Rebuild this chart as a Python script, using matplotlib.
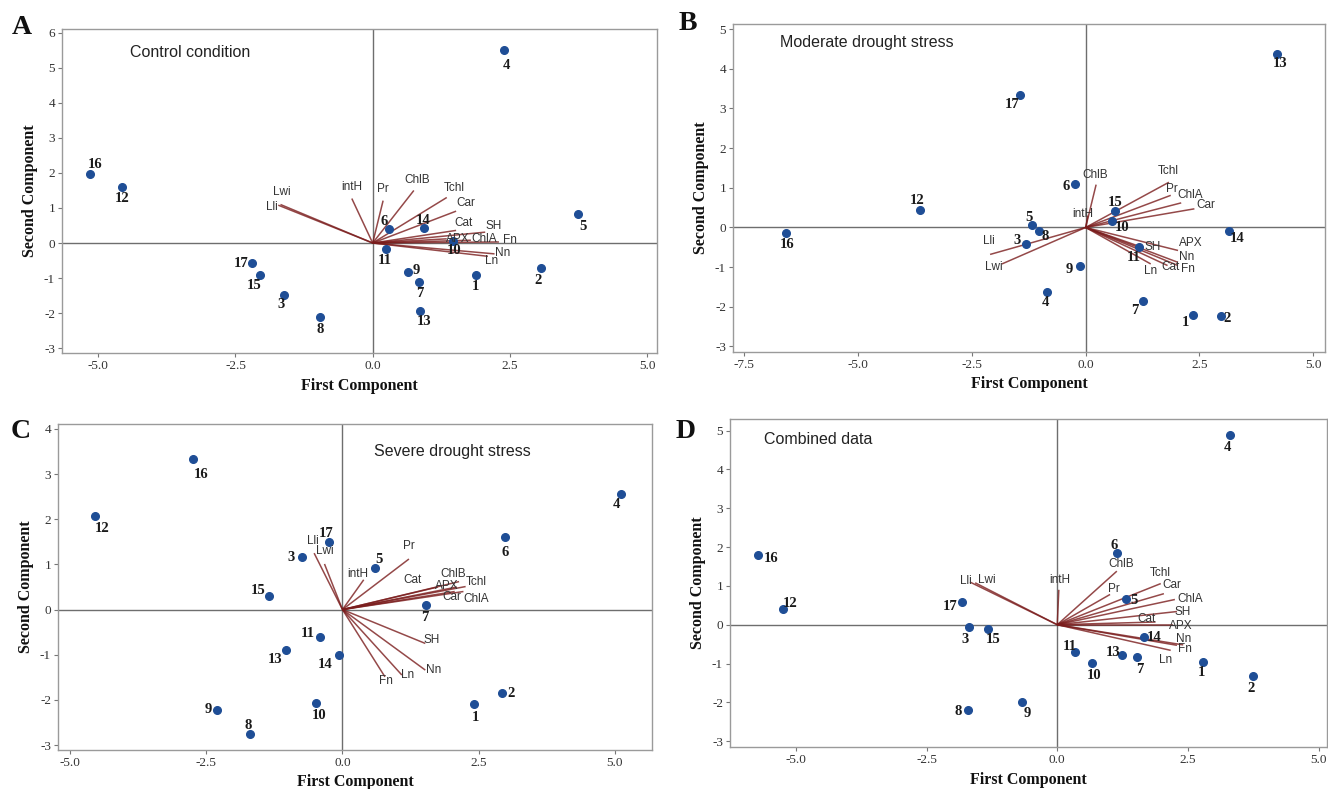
import matplotlib
matplotlib.use("Agg")
import matplotlib.pyplot as plt

plt.rcParams['axes.unicode_minus'] = False

# ---------------- data ----------------
genotypes = [str(i) for i in range(1, 18)]
variables = ["Lli", "Lwi", "intH", "Pr", "ChlB", "Tchl", "Car", "Cat",
             "SH", "APX", "ChlA", "Fn", "Nn", "Ln"]

# Panel A - control condition (scores)
a_pc1 = [1.88, 3.06, -1.62, 2.40, 3.74, 0.29, 0.85, -0.96, 0.64, 1.46, 0.25, -4.56, 0.87, 0.93, -2.06, -5.15, -2.19]
a_pc2 = [-0.92, -0.70, -1.47, 5.51, 0.84, 0.41, -1.10, -2.12, -0.82, 0.05, -0.17, 1.60, -1.94, 0.44, -0.90, 1.98, -0.58]
a_load1 = [-1.72, -1.68, -0.38, 0.19, 0.75, 1.35, 1.52, 1.52, 2.05, 1.35, 1.79, 2.30, 2.22, 2.10]
a_load2 = [1.08, 1.10, 1.27, 1.21, 1.50, 1.30, 0.91, 0.36, 0.31, 0.12, 0.08, 0.03, -0.31, -0.38]

# Panel B - moderate drought stress
b_pc1 = [2.36, 2.97, -1.31, -0.84, -1.18, -0.24, 1.26, -1.03, -0.13, 0.58, 1.18, -3.65, 4.20, 3.16, 0.65, -6.59, -1.44]
b_pc2 = [-2.21, -2.23, -0.41, -1.62, 0.05, 1.10, -1.86, -0.08, -0.98, 0.16, -0.50, 0.45, 4.38, -0.08, 0.42, -0.13, 3.35]
b_load1 = [-2.10, -1.84, 0.05, 1.87, 0.23, 1.83, 2.39, 1.80, 1.24, 2.03, 2.10, 2.03, 2.03, 1.43]
b_load2 = [-0.68, -0.92, 0.30, 0.81, 1.08, 1.14, 0.47, -0.96, -0.50, -0.58, 0.62, -0.96, -0.88, -0.92]

# Panel C - severe drought stress
c_pc1 = [2.41, 2.93, -0.75, 5.12, 0.59, 2.98, 1.53, -1.70, -2.30, -0.49, -0.42, -4.55, -1.04, -0.07, -1.35, -2.74, -0.25]
c_pc2 = [-2.10, -1.84, 1.16, 2.56, 0.92, 1.61, 0.10, -2.75, -2.22, -2.08, -0.60, 2.08, -0.90, -1.01, 0.29, 3.33, 1.49]
c_load1 = [-0.52, -0.33, 0.39, 1.22, 2.14, 2.26, 2.06, 1.75, 1.52, 2.10, 2.22, 0.78, 1.52, 1.09]
c_load2 = [1.25, 1.01, 0.66, 1.12, 0.62, 0.51, 0.40, 0.50, -0.75, 0.50, 0.40, -1.49, -1.34, -1.45]

# Panel D - combined data
d_pc1 = [2.79, 3.75, -1.69, 3.30, 1.31, 1.15, 1.52, -1.70, -0.68, 0.67, 0.34, -5.25, 1.24, 1.66, -1.33, -5.72, -1.82]
d_pc2 = [-0.95, -1.32, -0.07, 4.89, 0.66, 1.84, -0.84, -2.19, -2.00, -0.98, -0.71, 0.41, -0.77, -0.32, -0.11, 1.79, 0.58]
d_load1 = [-1.67, -1.57, 0.03, 1.01, 1.14, 1.98, 2.04, 1.88, 2.29, 2.21, 2.25, 2.29, 2.41, 2.17]
d_load2 = [1.10, 1.08, 0.90, 0.78, 1.38, 1.06, 0.80, 0.07, 0.34, 0.00, 0.65, -0.53, -0.52, -0.66]

titles = ["Control condition", "Moderate drought stress", "Severe drought stress", "Combined data"]
letters = ["A", "B", "C", "D"]
x_ticks = [[-5.0, -2.5, 0.0, 2.5, 5.0],
           [-7.5, -5.0, -2.5, 0.0, 2.5, 5.0],
           [-5.0, -2.5, 0.0, 2.5, 5.0],
           [-5.0, -2.5, 0.0, 2.5, 5.0]]
y_ticks = [list(range(-3, 7)), list(range(-3, 6)), list(range(-3, 5)), list(range(-3, 6))]

# ---------------- layout (pixel offsets of labels: dx, dy-up) ----------------
pt_off = [
    [(0,-11),(-3,-13),(-3,-10),(2,-15),(5,-13),(-4,7),(0,-12),(0,-12),(8,1),(1,-9),(-2,-12),(0,-12),(4,-11),(-1,7),(-5,-11),(5,9),(-11,0)],
    [(-8,-7),(6,-3),(-9,3),(-2,-11),(-3,8),(-9,-3),(-8,-9),(6,-6),(-10,-3),(10,-6),(-6,-10),(-2,9),(3,-10),(8,-8),(0,8),(1,-12),(-8,-10)],
    [(2,-13),(9,-1),(-11,0),(-5,-11),(4,9),(0,-16),(-1,-12),(-2,8),(-9,0),(3,-12),(-12,3),(8,-13),(-11,-9),(-13,-9),(-11,6),(8,-15),(-3,9)],
    [(-2,-11),(-2,-13),(-4,-12),(-2,-13),(8,-1),(-3,8),(3,-12),(-10,-2),(6,-11),(2,-13),(-5,6),(7,5),(-9,2),(10,0),(5,-11),(13,-3),(-12,-4)],
]
var_off = [
    [(-6,-2),(1,12),(0,12),(0,12),(3,10),(8,9),(10,8),(7,7),(8,6),(11,0),(13,1),(11,2),(8,1),(4,-5)],
    [(-1,13),(-8,-3),(-5,2),(1,6),(-1,10),(-1,11),(11,4),(3,-1),(11,0),(13,7),(9,8),(10,-3),(9,5),(0,-7)],
    [(-1,12),(0,13),(-6,6),(0,13),(-6,8),(11,5),(-3,-5),(-25,7),(6,3),(-10,1),(13,-7),(1,-4),(8,0),(6,0)],
    [(-4,1),(12,3),(1,10),(4,5),(4,7),(0,11),(8,9),(-9,3),(6,0),(8,-1),(15,0),(8,-4),(0,6),(-5,-10)],
]

W, H = 1328, 789
boxes = [(62, 29, 657, 353), (733, 24, 1325, 352), (58, 424, 652, 750), (730, 419, 1327, 747)]
xlims = [(-5.66, 5.18), (-7.75, 5.26), (-5.22, 5.68), (-6.26, 5.16)]
ylims = [(-3.14, 6.11), (-3.14, 5.13), (-3.11, 4.11), (-3.15, 5.30)]
title_pos = [(0.114, 0.926), (0.079, 0.945), (0.532, 0.915), (0.057, 0.936)]
letter_pos = [(22, 28), (688, 24), (21, 432), (686, 432)]

scores = [(a_pc1, a_pc2), (b_pc1, b_pc2), (c_pc1, c_pc2), (d_pc1, d_pc2)]
loads = [(a_load1, a_load2), (b_load1, b_load2), (c_load1, c_load2), (d_load1, d_load2)]

SERIF = "Liberation Serif"
SANS = "Liberation Sans"
PX2PT = 0.72

fig = plt.figure(figsize=(W / 100, H / 100), dpi=100)

for k in range(4):
    l, t, r, b = boxes[k]
    ax = fig.add_axes([l / W, 1 - b / H, (r - l) / W, (b - t) / H])
    ax.set_xlim(*xlims[k])
    ax.set_ylim(*ylims[k])
    for s in ax.spines.values():
        s.set_color("#9a9a9a")
        s.set_linewidth(1.0)
    ax.axhline(0, color="#6e6e6e", lw=1.0, zorder=1)
    ax.axvline(0, color="#6e6e6e", lw=1.0, zorder=1)

    ax.set_xticks(x_ticks[k])
    ax.set_xticklabels([f"{v:.1f}" for v in x_ticks[k]])
    ax.set_yticks(y_ticks[k])
    ax.set_yticklabels([str(v) for v in y_ticks[k]])
    ax.tick_params(direction="out", length=3, width=0.8, color="#777777",
                   labelsize=9.5, labelcolor="#333333", pad=2)
    for lab in ax.get_xticklabels() + ax.get_yticklabels():
        lab.set_fontfamily(SERIF)

    ax.set_xlabel("First Component", fontfamily=SERIF, fontweight="bold",
                  fontsize=11.5, labelpad=4, color="#111111")
    ax.set_ylabel("Second Component", fontfamily=SERIF, fontweight="bold",
                  fontsize=11.5, labelpad=4, color="#111111")

    # loading vectors
    lx, ly = loads[k]
    for j, name in enumerate(variables):
        ax.plot([0, lx[j]], [0, ly[j]], color="#7a1c1c", lw=1.1, alpha=0.8,
                zorder=2, solid_capstyle="butt")
        dx, dy = var_off[k][j]
        ax.annotate(name, (lx[j], ly[j]), xytext=(dx * PX2PT, dy * PX2PT),
                    textcoords="offset points", ha="center", va="center",
                    fontsize=8.5, fontfamily=SANS, color="#333333", zorder=4)

    # scores
    sx, sy = scores[k]
    ax.plot(sx, sy, "o", color="#1f4e96", markersize=5.5, zorder=3,
            linestyle="none")
    for i, g in enumerate(genotypes):
        dx, dy = pt_off[k][i]
        ax.annotate(g, (sx[i], sy[i]), xytext=(dx * PX2PT, dy * PX2PT),
                    textcoords="offset points", ha="center", va="center",
                    fontsize=10.5, fontweight="bold", fontfamily=SERIF,
                    color="#1a1a1a", zorder=4)

    ax.text(title_pos[k][0], title_pos[k][1], titles[k], transform=ax.transAxes,
            ha="left", va="center", fontsize=11.5, fontfamily=SANS, color="#222222")

    lxp, lyp = letter_pos[k]
    fig.text(lxp / W, 1 - lyp / H, letters[k], ha="center", va="center",
             fontsize=20, fontweight="bold", fontfamily=SERIF, color="#111111")

fig.savefig("out.png", dpi=100)
